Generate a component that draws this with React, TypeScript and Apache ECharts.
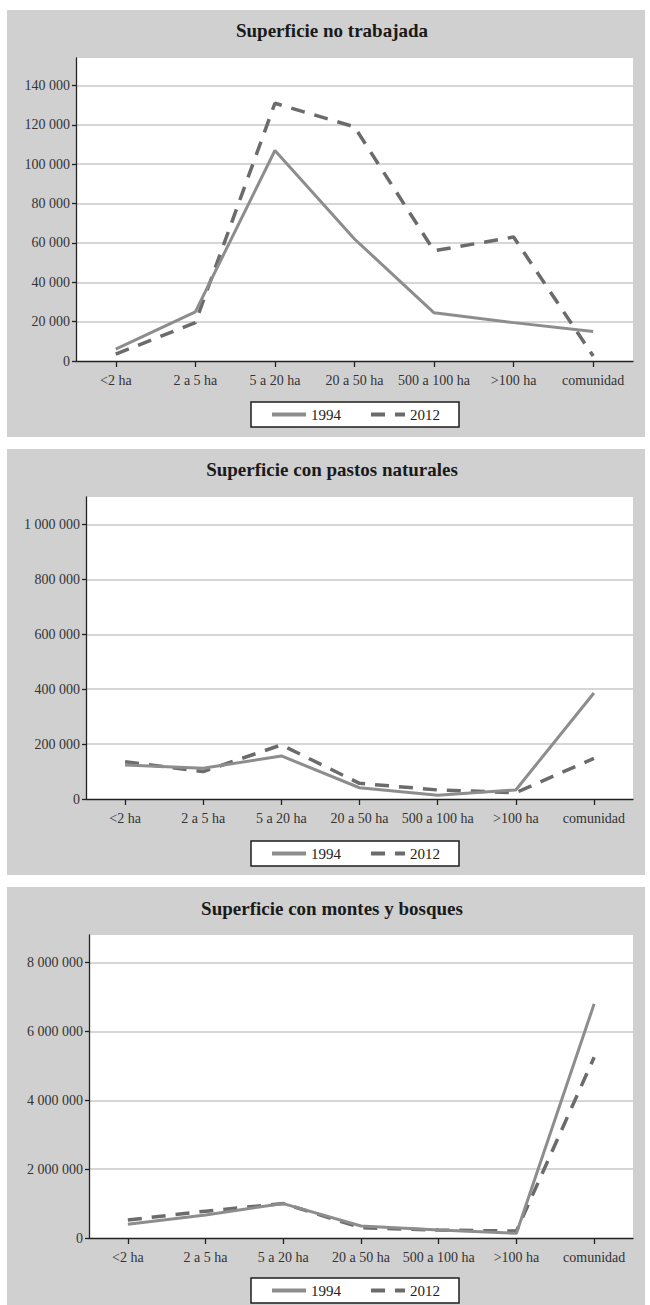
import React, { useEffect, useRef } from "react";
import * as echarts from "echarts";

const categories = ["<2 ha", "2 a 5 ha", "5 a 20 ha", "20 a 50 ha", "500 a 100 ha", ">100 ha", "comunidad"];
const seriesNames = ["1994", "2012"];

const titles = ["Superficie no trabajada", "Superficie con pastos naturales", "Superficie con montes y bosques"];

const noTrabajada1994 = [6000, 25000, 107000, 62000, 24500, 19500, 15000];
const noTrabajada2012 = [3500, 19500, 131000, 119000, 56000, 63000, 2500];
const pastos1994 = [124000, 112000, 157000, 41000, 13500, 33000, 386000];
const pastos2012 = [136000, 100000, 197000, 57000, 33000, 23000, 148000];
const montes1994 = [400000, 670000, 1000000, 350000, 230000, 136000, 6800000];
const montes2012 = [520000, 780000, 1000000, 300000, 230000, 200000, 5250000];

const ticks1 = [0, 20000, 40000, 60000, 80000, 100000, 120000, 140000];
const ticks2 = [0, 200000, 400000, 600000, 800000, 1000000];
const ticks3 = [0, 2000000, 4000000, 6000000, 8000000];

const panels = [
  { title: titles[0], a: noTrabajada1994, b: noTrabajada2012, ticks: ticks1, max: 154000, interval: 20000, titleY: 21, left: 76, top: 58, height: 303, legendTop: 402, bg: [10, 437] },
  { title: titles[1], a: pastos1994, b: pastos2012, ticks: ticks2, max: 1100000, interval: 200000, titleY: 460, left: 86, top: 497, height: 302, legendTop: 841, bg: [449, 875] },
  { title: titles[2], a: montes1994, b: montes2012, ticks: ticks3, max: 8800000, interval: 2000000, titleY: 899, left: 89, top: 935, height: 303, legendTop: 1278, bg: [887, 1305] },
];

const FONT = "Liberation Serif";
const fmt = (v: number) => String(v).replace(/\B(?=(\d{3})+(?!\d))/g, " ");

export default function App() {
  const ref = useRef<HTMLDivElement>(null);
  useEffect(() => {
    if (!ref.current) return;
    const chart = echarts.init(ref.current, undefined, { renderer: "svg" });
    const option: any = {
      animation: false,
      backgroundColor: "transparent",
      title: panels.map((p) => ({
        text: p.title,
        left: 332,
        top: p.titleY,
        textAlign: "center",
        padding: 0,
        textStyle: { fontFamily: FONT, fontWeight: "bold", fontSize: 19, color: "#1a1a1a" },
      })),
      legend: panels.map((p) => ({
        data: seriesNames,
        left: 251,
        top: p.legendTop,
        orient: "horizontal",
        padding: [5, 19, 5, 19],
        itemGap: 28,
        itemWidth: 34,
        itemHeight: 14,
        backgroundColor: "#ffffff",
        borderColor: "#1e1e1e",
        borderWidth: 1.5,
        borderRadius: 0,
        selectedMode: false,
        itemStyle: { color: "rgba(0,0,0,0)", borderColor: "rgba(0,0,0,0)", borderWidth: 0 },
        lineStyle: { width: 4 },
        textStyle: { fontFamily: FONT, fontSize: 15, color: "#222" },
      })),
      grid: panels.map((p) => ({
        left: p.left,
        right: 17,
        top: p.top,
        height: p.height,
        show: true,
        backgroundColor: "#ffffff",
        borderWidth: 0,
        containLabel: false,
      })),
      xAxis: panels.map((p, i) => ({
        type: "category",
        gridIndex: i,
        data: categories,
        boundaryGap: true,
        axisLine: { lineStyle: { color: "#222", width: 1.3 } },
        axisTick: { show: true, alignWithLabel: true, length: 6, lineStyle: { color: "#222", width: 1.3 } },
        axisLabel: { interval: 0, margin: 12, fontFamily: FONT, fontSize: 14, color: "#333" },
        splitLine: { show: false },
      })),
      yAxis: panels.map((p, i) => ({
        type: "value",
        gridIndex: i,
        min: 0,
        max: p.max,
        interval: p.interval,
        axisLine: { show: true, lineStyle: { color: "#222", width: 1.3 } },
        axisTick: { show: true, length: 4, customValues: p.ticks, lineStyle: { color: "#222", width: 1.3 } },
        axisLabel: {
          customValues: p.ticks,
          margin: 6,
          fontFamily: FONT,
          fontSize: 14,
          color: "#333",
          formatter: (v: number) => fmt(v),
        },
        splitLine: { show: true, showMinLine: false, lineStyle: { color: "#c8c8c8", width: 1.6 } },
      })),
      series: panels.flatMap((p, i) => [
        {
          name: seriesNames[0],
          type: "line",
          xAxisIndex: i,
          yAxisIndex: i,
          data: p.a,
          symbol: "none",
          color: "#8d8d8d",
          lineStyle: { color: "#8d8d8d", width: 3 },
          itemStyle: { color: "#8d8d8d" },
          z: 3,
        },
        {
          name: seriesNames[1],
          type: "line",
          xAxisIndex: i,
          yAxisIndex: i,
          data: p.b,
          symbol: "none",
          color: "#6b6b6b",
          lineStyle: { color: "#6b6b6b", width: 3.5, type: [14, 10] },
          itemStyle: { color: "#6b6b6b" },
          z: 2,
        },
      ]),
    };
    chart.setOption(option);
    return () => chart.dispose();
  }, []);

  return (
    <div style={{ position: "absolute", left: 0, top: 0, width: 650, height: 1305, background: "#ffffff" }}>
      {panels.map((p, i) => (
        <div
          key={i}
          style={{ position: "absolute", left: 7, top: p.bg[0], width: 638, height: p.bg[1] - p.bg[0], background: "#d0d0d0" }}
        />
      ))}
      <div ref={ref} style={{ position: "absolute", left: 0, top: 0, width: 650, height: 1305 }} />
    </div>
  );
}
